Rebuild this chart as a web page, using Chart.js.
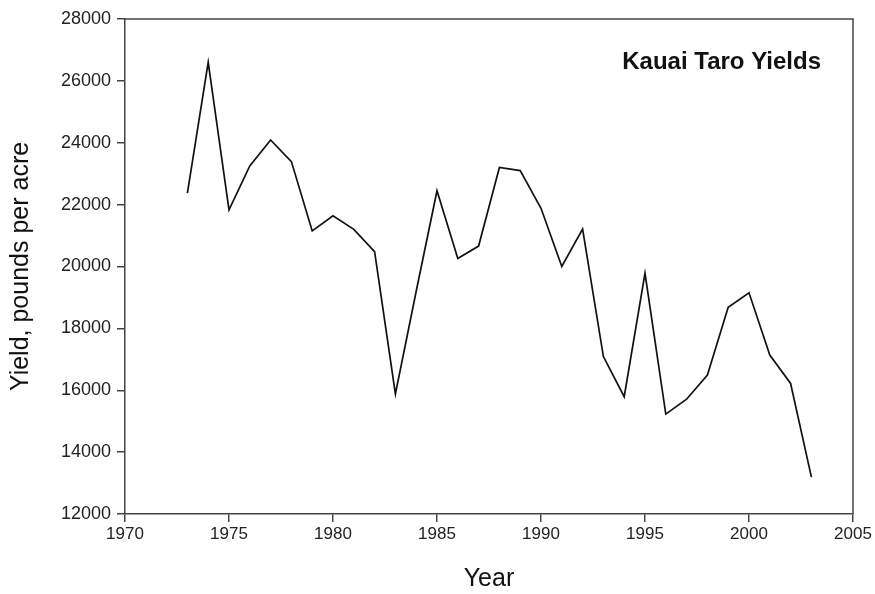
<!DOCTYPE html>
<html>
<head>
<meta charset="utf-8">
<script src="https://cdn.jsdelivr.net/npm/chart.js@4/dist/chart.umd.min.js"></script>
<style>
  html, body { margin: 0; padding: 0; background: #fff; }
  #wrap { width: 875px; height: 594px; position: relative; }
</style>
</head>
<body>
<div id="wrap"><canvas id="c" width="875" height="594"></canvas></div>
<script>
const chartTitle = "Kauai Taro Yields";
const xAxisTitle = "Year";
const yAxisTitle = "Yield, pounds per acre";

const years = [1973, 1974, 1975, 1976, 1977, 1978, 1979, 1980, 1981, 1982,
               1983, 1984, 1985, 1986, 1987, 1988, 1989, 1990, 1991, 1992,
               1993, 1994, 1995, 1996, 1997, 1998, 1999, 2000, 2001, 2002, 2003];
const yields = [22370, 26600, 21830, 23250, 24090, 23390, 21150, 21640, 21200, 20480,
                15880, 19200, 22450, 20260, 20660, 23200, 23100, 21880, 20000, 21210,
                17090, 15790, 19780, 15230, 15710, 16490, 18680, 19150, 17140, 16220, 13190];

const xMin = 1970, xMax = 2005, xStep = 5;
const yMin = 12000, yMax = 28000, yStep = 2000;

const points = years.map((y, i) => ({ x: y, y: yields[i] }));
const FONT = '"Liberation Sans", Arial, sans-serif';

const frameAndTitle = {
  id: 'frameAndTitle',
  afterDraw(chart) {
    const { ctx, chartArea: a } = chart;
    ctx.save();
    ctx.strokeStyle = '#444';
    ctx.lineWidth = 1.5;
    ctx.beginPath();
    ctx.moveTo(a.left, a.top);
    ctx.lineTo(a.right, a.top);
    ctx.lineTo(a.right, a.bottom);
    ctx.stroke();
    ctx.fillStyle = '#111';
    ctx.font = 'bold 24px ' + FONT;
    ctx.textAlign = 'right';
    ctx.textBaseline = 'middle';
    ctx.fillText(chartTitle, a.right - 32, a.top + 43);
    ctx.restore();
  }
};

new Chart(document.getElementById('c'), {
  type: 'line',
  data: {
    datasets: [{
      data: points,
      borderColor: '#111',
      borderWidth: 1.7,
      pointRadius: 0,
      tension: 0,
      fill: false
    }]
  },
  options: {
    responsive: false,
    animation: false,
    layout: { padding: { top: 19, right: 22, left: 0, bottom: 0 } },
    plugins: { legend: { display: false }, tooltip: { enabled: false } },
    scales: {
      x: {
        type: 'linear',
        min: xMin, max: xMax,
        afterFit(s) { s.height = 80; },
        ticks: {
          stepSize: xStep,
          color: '#222',
          padding: 2,
          font: { family: FONT, size: 17 },
          callback: v => String(v)
        },
        grid: { drawOnChartArea: false, drawTicks: true, tickLength: 8, color: '#444', lineWidth: 1.5 },
        border: { color: '#444', width: 1.5 },
        title: {
          display: true, text: xAxisTitle, color: '#111',
          font: { family: FONT, size: 25 },
          padding: { top: 0, bottom: 0 }
        }
      },
      y: {
        min: yMin, max: yMax,
        afterFit(s) { s.width = 125; },
        ticks: {
          stepSize: yStep,
          color: '#222',
          padding: 6,
          font: { family: FONT, size: 18 },
          callback: v => String(v)
        },
        grid: { drawOnChartArea: false, drawTicks: true, tickLength: 8, color: '#444', lineWidth: 1.5 },
        border: { color: '#444', width: 1.5 },
        title: {
          display: true, text: yAxisTitle, color: '#111',
          font: { family: FONT, size: 25 },
          padding: { top: 6, bottom: 0 }
        }
      }
    }
  },
  plugins: [frameAndTitle]
});
</script>
</body>
</html>
